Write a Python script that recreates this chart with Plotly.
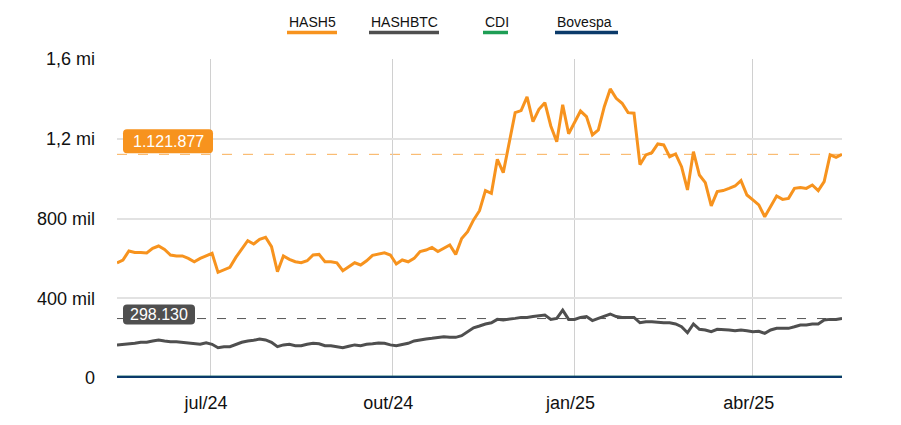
import pandas as pd
import plotly.graph_objects as go

# ---------------- data ----------------
start_date = "2024-05-15"
n_points = 123
dates = pd.date_range(start_date, periods=n_points, freq="3D")

hash5_k = [577, 592, 637, 630, 630, 627, 650, 662, 645, 617,
           612, 612, 600, 583, 600, 612, 625, 530, 542, 555,
           605, 650, 689, 672, 696, 706, 659, 533, 612, 595,
           583, 578, 588, 617, 620, 583, 583, 578, 538, 558,
           578, 567, 588, 615, 620, 628, 617, 572, 592, 583,
           600, 634, 642, 655, 634, 650, 667, 620, 700, 734,
           793, 839, 940, 926, 1097, 1030, 1177, 1331, 1341, 1410,
           1286, 1348, 1381, 1264, 1185, 1370, 1225, 1280, 1339, 1311,
           1219, 1244, 1361, 1450, 1403, 1378, 1331, 1328, 1070, 1119,
           1130, 1174, 1169, 1110, 1124, 1060, 943, 1135, 1018, 980,
           863, 935, 940, 951, 963, 990, 918, 893, 868, 809,
           863, 913, 896, 901, 951, 956, 951, 968, 940, 985,
           1119, 1107, 1121.877]

hashbtc_k = [166, 169, 169, 174, 179, 179, 186, 191, 186, 182,
             182, 179, 176, 171, 169, 176, 169, 152, 157, 157,
             169, 179, 186, 189, 196, 191, 179, 157, 166, 169,
             162, 162, 169, 174, 172, 162, 162, 157, 152, 159,
             166, 162, 169, 172, 176, 174, 166, 162, 169, 174,
             186, 192, 196, 199, 204, 207, 204, 204, 212, 232,
             252, 261, 271, 277, 294, 291, 294, 299, 304, 304,
             308, 311, 316, 294, 299, 340, 294, 294, 304, 308,
             288, 299, 311, 321, 308, 304, 304, 304, 277, 282,
             282, 279, 277, 277, 271, 257, 227, 271, 244, 241,
             232, 244, 244, 241, 237, 241, 237, 232, 234, 224,
             241, 249, 249, 249, 257, 266, 266, 271, 271, 291,
             294, 294, 298.130]

hash5 = [v * 1000 for v in hash5_k]
hashbtc = [v * 1000 for v in hashbtc_k]

bench_dates = ["2024-05-15", "2024-08-15", "2024-11-15", "2025-02-15", "2025-05-16"]
cdi = [1000, 1026, 1053, 1081, 1112]
bovespa = [1000, 1040, 1010, 960, 1080]

last_hash5 = 1121877
last_hashbtc = 298130

y_tickvals = [0, 400000, 800000, 1200000, 1600000]
y_ticktext = ["0", "400 mil", "800 mil", "1,2 mi", "1,6 mi"]
x_tickvals = ["2024-07-01", "2024-10-01", "2025-01-01", "2025-04-01"]
x_ticktext = ["jul/24", "out/24", "jan/25", "abr/25"]
x_range = ["2024-05-15", "2025-05-16"]

series_names = ["HASH5", "HASHBTC", "CDI", "Bovespa"]
colors = {"HASH5": "#F7931E", "HASHBTC": "#4F4F4F", "CDI": "#1E9E55", "Bovespa": "#0B3A6A"}

# ---------------- figure ----------------
FONT = "Arial, Liberation Sans, sans-serif"
fig = go.Figure()

fig.add_trace(go.Scatter(x=bench_dates, y=cdi, mode="lines", name="CDI",
                         line=dict(color=colors["CDI"], width=4), showlegend=False))
fig.add_trace(go.Scatter(x=bench_dates, y=bovespa, mode="lines", name="Bovespa",
                         line=dict(color=colors["Bovespa"], width=4), showlegend=False))
fig.add_trace(go.Scatter(x=dates, y=hashbtc, mode="lines", name="HASHBTC",
                         line=dict(color=colors["HASHBTC"], width=3), showlegend=False))
fig.add_trace(go.Scatter(x=dates, y=hash5, mode="lines", name="HASH5",
                         line=dict(color=colors["HASH5"], width=3), showlegend=False))

# dashed reference lines at last values
fig.add_shape(type="line", xref="paper", x0=0, x1=1, yref="y", y0=last_hash5, y1=last_hash5,
              line=dict(color="rgba(247,147,30,0.75)", width=1, dash="10px,11px"), layer="below")
fig.add_shape(type="line", xref="paper", x0=0, x1=1, yref="y", y0=last_hashbtc, y1=last_hashbtc,
              line=dict(color="#555555", width=1, dash="9px,11px"), layer="below")


def rounded_path(x0, y0, x1, y1, r):
    return (f"M {x0 + r},{y0} L {x1 - r},{y0} Q {x1},{y0} {x1},{y0 + r} "
            f"L {x1},{y1 - r} Q {x1},{y1} {x1 - r},{y1} L {x0 + r},{y1} "
            f"Q {x0},{y1} {x0},{y1 - r} L {x0},{y0 + r} Q {x0},{y0} {x0 + r},{y0} Z")


def value_label(value, text, color, px0, px1, py0, py1):
    fig.add_shape(type="path", xref="paper", yref="y", xsizemode="pixel", ysizemode="pixel",
                  xanchor=0, yanchor=value, path=rounded_path(px0, py0, px1, py1, 4),
                  fillcolor=color, line=dict(width=0), layer="above")
    fig.add_annotation(xref="paper", yref="y", x=0, y=value, xanchor="center", yanchor="middle",
                       xshift=(px0 + px1) / 2, yshift=(py0 + py1) / 2, text=text, showarrow=False,
                       font=dict(family=FONT, size=16, color="white"))


value_label(last_hash5, f"{last_hash5:,}".replace(",", "."), colors["HASH5"], 6, 96, 1, 25)
value_label(last_hashbtc, f"{last_hashbtc:,}".replace(",", "."), colors["HASHBTC"], 6, 78, -6, 14)

# custom legend: text with a coloured underline
plot_w, plot_h, left, bottom = 725, 319, 117, 378
legend_spans = {"HASH5": (287, 337), "HASHBTC": (369, 439), "CDI": (483, 508), "Bovespa": (555, 618)}
for name in series_names:
    a, b = legend_spans[name]
    fig.add_shape(type="line", xref="paper", yref="paper",
                  x0=(a - left) / plot_w, x1=(b - left) / plot_w,
                  y0=(bottom - 32.5) / plot_h, y1=(bottom - 32.5) / plot_h,
                  line=dict(color=colors[name], width=3.5))
    fig.add_annotation(xref="paper", yref="paper", x=(a - left) / plot_w, y=(bottom - 22) / plot_h,
                       xanchor="left", yanchor="middle", text=name, showarrow=False,
                       font=dict(family=FONT, size=14, color="#111111"))

fig.update_layout(
    width=901, height=425,
    margin=dict(l=117, r=59, t=59, b=47),
    paper_bgcolor="white", plot_bgcolor="white",
    font=dict(family=FONT, color="#111111"),
    showlegend=False,
)
fig.update_yaxes(range=[0, 1600000], tickvals=y_tickvals, ticktext=y_ticktext,
                 showgrid=True, gridcolor="#e2e2e2", gridwidth=2, zeroline=False, showline=False,
                 ticks="", tickfont=dict(size=18, family=FONT, color="#111111"), ticklabelstandoff=21)
fig.update_xaxes(type="date", range=x_range, tickvals=x_tickvals, ticktext=x_ticktext,
                 showgrid=True, gridcolor="#d0d0d0", gridwidth=1, zeroline=False, showline=False,
                 ticks="", tickfont=dict(size=18, family=FONT, color="#111111"),
                 ticklabelstandoff=12, ticklabelshift=-4)

fig.write_html("out.html")
